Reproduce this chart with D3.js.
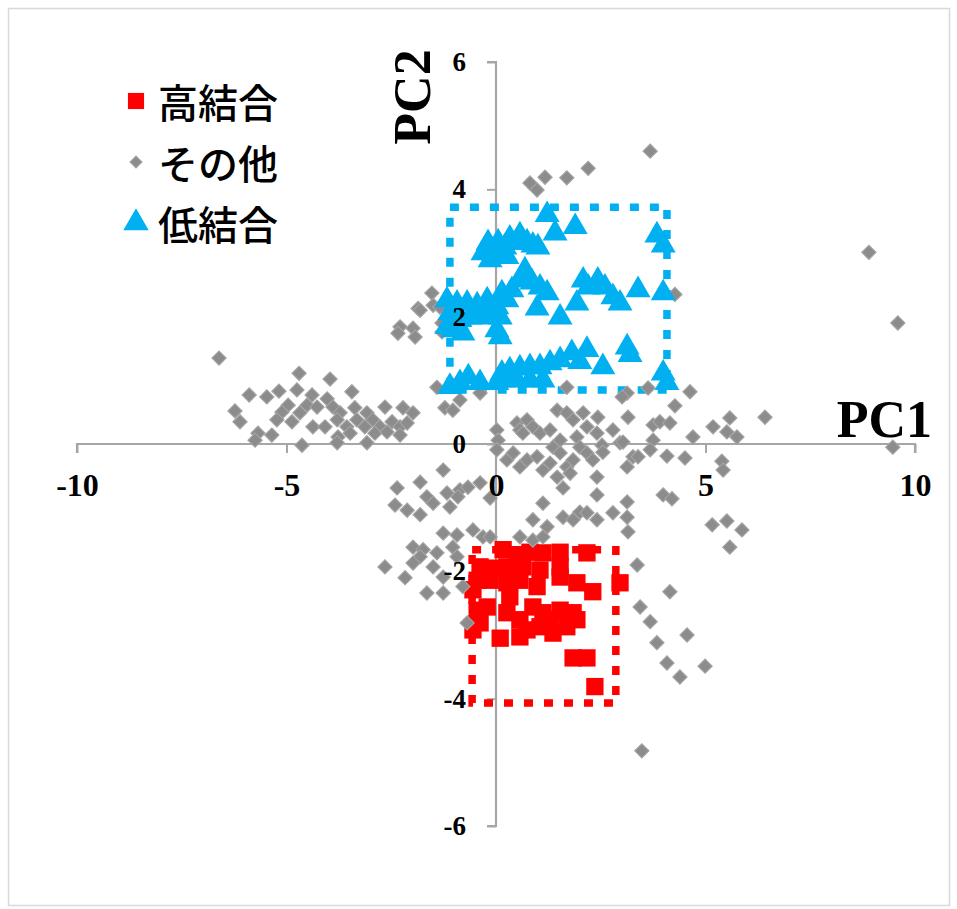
<!DOCTYPE html>
<html>
<head>
<meta charset="utf-8">
<script src="https://cdn.jsdelivr.net/npm/d3@7"></script>
<style>
  body { margin: 0; background: #fff; }
  svg { display: block; }
</style>
</head>
<body>
<svg id="chart" width="957" height="909"></svg>
<script>
// 高結合 (red squares)
const highPoints = [
  [0.17, -1.66], [0.50, -1.74], [0.81, -1.70], [1.12, -1.71], [1.53, -1.70], [2.17, -1.71],
  [-0.38, -1.93], [-0.07, -1.95], [0.26, -1.93], [0.64, -1.93], [1.05, -1.98], [1.53, -1.93],
  [-0.45, -2.14], [-0.14, -2.14], [0.26, -2.18], [0.57, -2.14], [0.98, -2.24], [1.53, -2.09],
  [1.93, -2.18], [2.31, -2.32], [2.96, -2.18], [0.33, -2.40], [-0.45, -2.61], [-0.21, -2.56],
  [0.26, -2.65], [0.57, -2.76], [0.88, -2.56], [1.12, -2.65], [1.29, -2.76], [1.53, -2.61],
  [1.84, -2.65], [1.93, -2.76], [1.69, -2.87], [1.05, -2.87], [0.74, -2.92], [0.57, -3.03],
  [0.10, -3.05], [-0.38, -2.81], [-0.55, -2.92], [1.36, -2.97], [1.84, -3.36], [2.17, -3.36],
  [2.36, -3.81], [-0.55, -2.29]
]

// その他 (gray diamonds)
const otherPoints = [
  [-6.61, 1.35], [-4.70, 1.11], [-3.96, 1.02], [-5.89, 0.77], [-5.47, 0.74], [-5.18, 0.83],
  [-6.23, 0.52], [-6.11, 0.35], [-4.75, 0.85], [-4.39, 0.77], [-3.44, 0.82], [-4.03, 0.71],
  [-4.96, 0.61], [-5.11, 0.50], [-4.68, 0.49], [-4.51, 0.61], [-4.27, 0.58], [-3.89, 0.58],
  [-3.72, 0.49], [-3.37, 0.57], [-3.08, 0.49], [-2.65, 0.58], [-2.22, 0.57], [-1.98, 0.49],
  [-5.23, 0.38], [-4.87, 0.35], [-4.37, 0.27], [-4.08, 0.27], [-3.79, 0.38], [-3.56, 0.27],
  [-3.32, 0.38], [-3.13, 0.27], [-2.94, 0.38], [-2.77, 0.27], [-2.48, 0.35], [-2.29, 0.27],
  [-2.12, 0.33], [-5.68, 0.17], [-5.35, 0.14], [-5.75, 0.06], [-4.63, -0.02], [-3.77, 0.11],
  [-3.79, 0.02], [-3.08, 0.02], [-2.89, 0.17], [-3.48, 0.17], [-2.29, 0.14], [-2.60, 0.19],
  [-1.53, 2.37], [-1.86, 2.13], [-2.29, 1.84], [-2.34, 1.74], [-1.98, 1.82], [-1.93, 1.68],
  [-1.50, 2.18], [-1.29, 1.90], [-1.81, 2.10], [-1.34, 2.15], [-1.29, 1.76], [-1.41, 0.89],
  [-1.22, 0.57], [-1.03, 0.53], [-0.86, 0.69], [-0.38, 0.80],
  [0.50, 0.33], [0.57, 0.22], [0.74, 0.38], [0.64, 0.17], [0.88, 0.27], [1.05, 0.17],
  [1.29, 0.22], [1.46, 0.53], [1.69, 0.49], [1.84, 0.38], [2.08, 0.49], [2.17, 0.27],
  [2.43, 0.42], [2.41, 0.17], [2.79, 0.22], [3.15, 0.42], [1.53, 0.06], [1.93, 0.11],
  [0.02, 0.22], [0.05, 0.06], [0.02, -0.09],
  [0.26, -0.25], [0.41, -0.14], [0.57, -0.36], [0.74, -0.25], [0.98, -0.20], [1.12, -0.41],
  [1.29, -0.30], [1.36, -0.05], [1.53, -0.14], [1.69, -0.36], [1.84, -0.25], [2.00, -0.05],
  [2.17, -0.14], [2.31, -0.25], [1.77, -0.46], [1.46, -0.52], [2.41, -0.52], [1.60, -0.69],
  [2.53, -0.02], [2.96, 0.02], [3.27, -0.20], [3.13, -0.36],
  [-1.26, -0.41], [-1.81, -0.60], [-2.36, -0.69], [-2.41, -0.96], [-2.12, -1.04], [-1.81, -1.11],
  [-1.65, -0.83], [-1.50, -0.93], [-1.17, -0.77], [-1.10, -0.99], [-0.86, -0.72], [-0.67, -0.68],
  [-0.38, -0.61], [-0.14, -0.85], [-0.91, -0.83],
  [1.12, -0.93], [2.41, -0.80], [3.13, -0.91], [0.88, -1.19], [1.22, -1.30], [1.60, -1.15],
  [1.84, -1.19], [2.00, -1.07], [2.17, -1.08], [2.41, -1.19], [2.79, -1.08], [3.13, -1.15],
  [3.15, -1.38], [0.57, -1.46], [0.88, -1.51], [1.12, -1.46],
  [-1.26, -1.40], [-0.93, -1.43], [-0.55, -1.35], [-0.31, -1.46], [-1.98, -1.62], [-1.74, -1.66],
  [-1.41, -1.71], [-1.03, -1.62], [-2.65, -1.93], [-2.17, -2.10], [-1.81, -1.77], [-1.65, -2.34],
  [-1.26, -2.34], [-1.50, -1.93], [-1.98, -1.87], [-0.93, -1.77], [-1.26, -2.09], [-0.79, -2.24],
  [-0.69, -2.81], [-0.14, -1.46],
  [4.63, 0.82], [4.27, 0.60], [3.75, 0.30], [3.91, 0.35], [4.15, 0.33], [3.03, 0.03],
  [3.75, 0.06], [4.70, 0.11], [5.18, 0.27], [5.58, 0.41], [5.51, 0.19], [5.75, 0.11],
  [6.42, 0.42], [2.55, -0.13], [3.39, -0.20], [3.68, -0.09], [4.08, -0.19], [4.51, -0.22],
  [5.39, -0.27], [5.42, -0.41], [3.99, -0.80], [4.20, -0.86], [5.16, -1.27], [5.51, -1.21],
  [5.87, -1.35], [5.58, -1.62], [3.37, -1.90], [4.15, -2.32], [3.44, -2.56], [3.68, -2.79],
  [3.84, -3.12], [4.56, -3.00], [4.08, -3.44], [4.99, -3.49], [4.39, -3.66],
  [8.90, 3.01], [9.59, 1.90], [9.47, -0.05],
  [3.68, 4.60], [2.20, 4.33], [1.69, 4.18], [1.17, 4.19], [0.81, 4.10], [0.98, 3.99],
  [4.27, 2.35], [3.63, 0.88], [3.13, 0.80], [1.69, 0.89], [3.01, 0.74], [3.48, -4.82]
]

// 低結合 (blue triangles)
const lowPoints = [
  [1.22, 3.60], [1.41, 3.31], [1.89, 3.41], [3.84, 3.28], [3.99, 3.12],
  [-0.31, 3.00], [-0.19, 3.16], [-0.07, 3.01], [0.05, 3.17], [0.21, 3.09], [0.33, 3.23],
  [0.50, 3.16], [0.57, 3.28], [0.74, 3.17], [0.88, 3.12], [1.00, 3.09], [-0.14, 2.89], [0.26, 2.94],
  [0.69, 2.73], [0.57, 2.57], [0.86, 2.54], [1.05, 2.46], [1.22, 2.37], [0.38, 2.42],
  [0.14, 2.37], [0.26, 2.26], [0.02, 2.15], [0.98, 2.13], [1.53, 1.99], [1.93, 2.21],
  [2.08, 2.57], [2.20, 2.46], [2.43, 2.57], [2.60, 2.46], [2.79, 2.31], [2.96, 2.21],
  [3.39, 2.42], [3.99, 2.37],
  [-1.17, 2.26], [-0.93, 2.21], [-0.69, 2.21], [-0.45, 2.18], [-0.21, 2.26], [-1.10, 2.06],
  [-0.86, 1.95], [-0.62, 1.99], [-0.38, 1.99], [-0.14, 2.06], [0.10, 1.99], [-1.03, 1.79],
  [-0.79, 1.74], [0.02, 1.79], [0.10, 1.68], [-1.17, 1.84],
  [3.13, 1.52], [3.20, 1.40], [2.17, 1.48], [2.55, 1.21], [1.81, 1.43], [1.53, 1.32],
  [1.29, 1.27], [1.05, 1.21], [0.81, 1.21], [0.57, 1.19], [0.33, 1.16], [0.14, 1.11],
  [0.17, 1.00], [0.50, 1.00], [0.81, 1.00], [1.12, 1.00], [0.02, 0.96], [-0.66, 1.05],
  [-0.86, 0.96], [-0.38, 0.96], [3.99, 1.11], [4.08, 0.96], [2.00, 1.29], [-1.10, 0.90]
]

const xTicks = [-10, -5, 0, 5, 10]
const yTicks = [-6, -4, -2, 0, 2, 4, 6]
const legendLabels = ['高結合', 'その他', '低結合']

// dashed selection boxes: [x0, y0, x1, y1]
const boxes = [
  { name: 'low', rect: [-1.1, 3.72, 4.08, 0.85] },
  { name: 'high', rect: [-0.57, -1.66, 2.86, -4.07] }
]

const COLORS = { high: '#ff0000', other: '#8c8c8c', low: '#00b0f0' }

const svg = d3.select('#chart')
const serif = '"Liberation Serif", "Times New Roman", serif'
const plainNum = d => String(d)

// frame
svg.append('rect')
  .attr('x', 8.5).attr('y', 8.5)
  .attr('width', 941).attr('height', 897)
  .attr('fill', 'none').attr('stroke', '#d9d9d9').attr('stroke-width', 1.5)

const x = d3.scaleLinear().domain([-10, 10]).range([77, 915])
const y = d3.scaleLinear().domain([-6, 6]).range([826, 62])

// axis lines (under marks)
const axisColor = '#a6a6a6'
const xAxisLines = svg.append('g')
  .attr('transform', `translate(0,${y(0)})`)
  .call(d3.axisBottom(x).tickValues(xTicks).tickSize(9).tickFormat(''))
const yAxisLines = svg.append('g')
  .attr('transform', `translate(${x(0)},0)`)
  .call(d3.axisLeft(y).tickValues(yTicks).tickSize(9).tickFormat(''))
;[xAxisLines, yAxisLines].forEach(g => {
  g.select('.domain').attr('stroke', axisColor).attr('stroke-width', 2.2)
  g.selectAll('.tick line').attr('stroke', axisColor).attr('stroke-width', 2)
})
xAxisLines.select('.domain').attr('d', `M${x(-10)},9V0H${x(10)}V9`)
yAxisLines.select('.domain').attr('d', `M-9,${y(6)}H0V${y(-6)}H-9`)

// dashed boxes
boxes.forEach(b => {
  const [x0, y0, x1, y1] = b.rect
  svg.append('rect')
    .attr('x', x(x0)).attr('y', y(y0))
    .attr('width', x(x1) - x(x0)).attr('height', y(y1) - y(y0))
    .attr('fill', 'none')
    .attr('stroke', COLORS[b.name])
    .attr('stroke-width', 7.5)
    .attr('stroke-dasharray', '9,11')
})

const squareSym = d3.symbol().type(d3.symbolSquare)
const triSym = d3.symbol().type(d3.symbolTriangle)

// 高結合
svg.append('g').selectAll('path')
  .data(highPoints)
  .join('path')
  .attr('d', squareSym.size(300)())
  .attr('transform', d => `translate(${x(d[0])},${y(d[1])})`)
  .attr('fill', COLORS.high)

// その他
svg.append('g').selectAll('path')
  .data(otherPoints)
  .join('path')
  .attr('d', squareSym.size(100)())
  .attr('transform', d => `translate(${x(d[0])},${y(d[1])}) rotate(45)`)
  .attr('fill', COLORS.other)
  .attr('stroke', '#a3a3a3')
  .attr('stroke-width', 1.2)

// 低結合
svg.append('g').selectAll('path')
  .data(lowPoints)
  .join('path')
  .attr('d', triSym.size(270)())
  .attr('transform', d => `translate(${x(d[0])},${y(d[1])})`)
  .attr('fill', COLORS.low)

// tick labels on top of marks
const xLabels = svg.append('g')
  .attr('transform', `translate(0,${y(0)})`)
  .call(d3.axisBottom(x).tickValues(xTicks).tickSize(9).tickPadding(20).tickFormat(plainNum))
const yLabels = svg.append('g')
  .attr('transform', `translate(${x(0)},0)`)
  .call(d3.axisLeft(y).tickValues(yTicks).tickSize(9).tickPadding(21).tickFormat(plainNum))
;[xLabels, yLabels].forEach(g => {
  g.select('.domain').remove()
  g.selectAll('.tick line').remove()
  g.selectAll('text')
    .attr('fill', '#000')
    .style('font-family', serif)
    .style('font-weight', 'bold')
})
xLabels.selectAll('text').style('font-size', '32px')
yLabels.selectAll('text').style('font-size', '27px')

// axis titles
svg.append('text')
  .attr('transform', `translate(430,97) rotate(-90)`)
  .attr('text-anchor', 'middle')
  .style('font-family', serif).style('font-weight', 'bold').style('font-size', '52px')
  .text('PC2')
svg.append('text')
  .attr('x', 932).attr('y', 437)
  .attr('text-anchor', 'end')
  .style('font-family', serif).style('font-weight', 'bold').style('font-size', '52px')
  .text('PC1')

// legend
const legend = svg.append('g').attr('transform', 'translate(136,101)')
const rowH = 61
legendLabels.forEach((label, i) => {
  const row = legend.append('g').attr('transform', `translate(0,${i * rowH})`)
  if (i === 0) {
    row.append('path').attr('d', squareSym.size(260)()).attr('fill', COLORS.high)
  } else if (i === 1) {
    row.append('path').attr('d', squareSym.size(70)())
      .attr('transform', 'rotate(45)')
      .attr('fill', COLORS.other).attr('stroke', '#a3a3a3').attr('stroke-width', 1.2)
  } else {
    row.append('path').attr('d', triSym.size(280)()).attr('fill', COLORS.low)
  }
  row.append('text')
    .attr('x', 22).attr('y', 0)
    .attr('dominant-baseline', 'central')
    .style('font-family', '"Noto Sans CJK JP", sans-serif')
    .style('font-size', '40px')
    .style('font-weight', 500)
    .attr('fill', '#000')
    .text(label)
})
</script>
</body>
</html>
